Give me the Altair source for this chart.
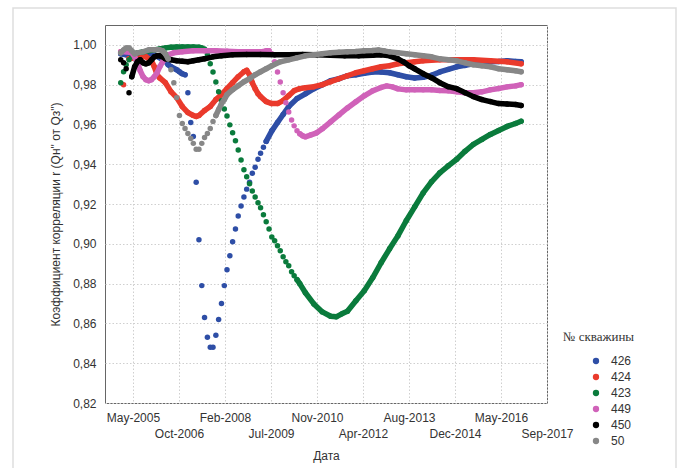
import json
import altair as alt
import pandas as pd

# ---------------- data ----------------
wells = ["426", "424", "423", "449", "450", "50"]
colors = ["#2e4ea6", "#ea3a2c", "#0a7b3c", "#d062b9", "#000000", "#878787"]

tick_dates = ["2005-05-28", "2006-10-10", "2008-02-22", "2009-07-06", "2010-11-18",
              "2012-04-01", "2013-08-14", "2014-12-27", "2016-05-10", "2017-09-22"]
tick_labels = ["May-2005", "Oct-2006", "Feb-2008", "Jul-2009", "Nov-2010",
               "Apr-2012", "Aug-2013", "Dec-2014", "May-2016", "Sep-2017"]
x_range = ["2004-07-28", "2017-09-22"]
y_ticks = [0.82, 0.84, 0.86, 0.88, 0.90, 0.92, 0.94, 0.96, 0.98, 1.00]

s426 = [("2005-01", 0.9955), ("2005-03", 0.995), ("2005-05", 0.9945), ("2005-07", 0.995),
        ("2005-09", 0.9955), ("2005-11", 0.9955), ("2006-01", 0.995), ("2006-03", 0.9935),
        ("2006-05", 0.992), ("2006-06", 0.990), ("2006-07", 0.989), ("2006-09", 0.9875),
        ("2006-10", 0.9865), ("2006-11", 0.9855), ("2006-12", 0.985),
        ("2007-01", 0.976), ("2007-02", 0.961), ("2007-03", 0.954), ("2007-04", 0.931),
        ("2007-05", 0.902), ("2007-06", 0.879), ("2007-07", 0.863), ("2007-08", 0.853),
        ("2007-09", 0.848), ("2007-10", 0.848), ("2007-11", 0.854), ("2007-12", 0.862),
        ("2008-01", 0.870), ("2008-02", 0.879), ("2008-03", 0.887), ("2008-04", 0.894),
        ("2008-05", 0.901), ("2008-06", 0.9075), ("2008-07", 0.914), ("2008-08", 0.919),
        ("2008-09", 0.9235), ("2008-10", 0.9275), ("2008-11", 0.931), ("2008-12", 0.9355),
        ("2009-01", 0.9385), ("2009-02", 0.9425), ("2009-03", 0.9455), ("2009-04", 0.9485),
        ("2009-05", 0.9515), ("2009-07", 0.9568), ("2009-09", 0.961), ("2009-11", 0.965),
        ("2010-01", 0.969), ("2010-04", 0.973), ("2010-07", 0.9754), ("2010-10", 0.978),
        ("2011-01", 0.980), ("2011-04", 0.982), ("2011-07", 0.983), ("2011-10", 0.9845),
        ("2012-01", 0.985), ("2012-04", 0.9857), ("2012-07", 0.9864), ("2012-10", 0.9864),
        ("2013-01", 0.986), ("2013-04", 0.985), ("2013-07", 0.984), ("2013-10", 0.9834),
        ("2014-01", 0.9837), ("2014-04", 0.9847), ("2014-07", 0.9864), ("2014-10", 0.9877),
        ("2015-01", 0.989), ("2015-04", 0.9897), ("2015-07", 0.9905), ("2015-10", 0.991),
        ("2016-01", 0.9915), ("2016-04", 0.9917), ("2016-07", 0.992), ("2016-10", 0.9917),
        ("2016-12", 0.9915)]
d426 = [("2005-01", "2006-12"), ("2009-05", "2016-12")]

s424 = [("2005-01", 0.9965), ("2005-02", 0.980), ("2005-04", 0.993), ("2005-06", 0.9935),
        ("2005-08", 0.994), ("2005-10", 0.994), ("2005-12", 0.992), ("2006-01", 0.989),
        ("2006-02", 0.985), ("2006-03", 0.9834), ("2006-05", 0.981), ("2006-07", 0.9765),
        ("2006-09", 0.9735), ("2006-11", 0.969), ("2007-01", 0.966), ("2007-03", 0.9645),
        ("2007-04", 0.964), ("2007-05", 0.9645), ("2007-07", 0.967), ("2007-09", 0.969),
        ("2007-11", 0.9725), ("2008-01", 0.975), ("2008-03", 0.978), ("2008-05", 0.981),
        ("2008-07", 0.984), ("2008-09", 0.9865), ("2008-10", 0.9872), ("2008-11", 0.985),
        ("2008-12", 0.981), ("2009-01", 0.978), ("2009-02", 0.9755), ("2009-03", 0.974),
        ("2009-05", 0.9715), ("2009-07", 0.9705), ("2009-09", 0.9705), ("2009-11", 0.972),
        ("2010-01", 0.9745), ("2010-03", 0.977), ("2010-05", 0.978), ("2010-07", 0.9785),
        ("2010-10", 0.979), ("2011-01", 0.980), ("2011-04", 0.9815), ("2011-07", 0.983),
        ("2011-10", 0.9845), ("2012-01", 0.986), ("2012-04", 0.987), ("2012-07", 0.988),
        ("2012-10", 0.989), ("2013-01", 0.9895), ("2013-04", 0.9905), ("2013-07", 0.991),
        ("2013-10", 0.9915), ("2014-01", 0.992), ("2014-07", 0.9925), ("2015-01", 0.9925),
        ("2015-07", 0.9925), ("2016-01", 0.992), ("2016-07", 0.9915), ("2016-12", 0.9905)]
d424 = [("2005-04", "2016-12")]

s423 = [("2005-01", 0.981), ("2005-02", 0.9865), ("2005-03", 0.990), ("2005-04", 0.9925),
        ("2005-05", 0.994), ("2005-06", 0.995), ("2005-07", 0.996), ("2005-09", 0.9965),
        ("2005-11", 0.997), ("2006-01", 0.9975), ("2006-03", 0.998), ("2006-05", 0.9985),
        ("2006-07", 0.9988), ("2006-09", 0.999), ("2006-11", 0.999), ("2007-01", 0.999),
        ("2007-03", 0.999), ("2007-05", 0.9988), ("2007-06", 0.9985),
        ("2007-07", 0.998), ("2007-08", 0.995), ("2007-09", 0.9905), ("2007-10", 0.9864),
        ("2007-11", 0.9814), ("2007-12", 0.9764), ("2008-01", 0.9719), ("2008-02", 0.9678),
        ("2008-03", 0.9643), ("2008-04", 0.9598), ("2008-05", 0.9558), ("2008-06", 0.9518),
        ("2008-07", 0.9472), ("2008-08", 0.9422), ("2008-09", 0.9372), ("2008-10", 0.9337),
        ("2008-11", 0.9302), ("2008-12", 0.9266), ("2009-01", 0.9236), ("2009-02", 0.9206),
        ("2009-03", 0.9181), ("2009-04", 0.9146), ("2009-05", 0.9111), ("2009-06", 0.9075),
        ("2009-07", 0.9035), ("2009-08", 0.9015), ("2009-09", 0.899), ("2009-10", 0.8965),
        ("2009-11", 0.8935), ("2009-12", 0.891), ("2010-01", 0.889), ("2010-02", 0.886),
        ("2010-03", 0.884), ("2010-04", 0.882), ("2010-05", 0.880), ("2010-07", 0.8754),
        ("2010-10", 0.8698), ("2011-01", 0.8658), ("2011-04", 0.8636), ("2011-06", 0.8633),
        ("2011-08", 0.8648), ("2011-10", 0.8661), ("2012-01", 0.8714), ("2012-04", 0.8764),
        ("2012-07", 0.8829), ("2012-10", 0.8905), ("2013-01", 0.8975), ("2013-04", 0.904),
        ("2013-07", 0.9116), ("2013-10", 0.9186), ("2014-01", 0.9256), ("2014-04", 0.9312),
        ("2014-07", 0.9357), ("2014-10", 0.9392), ("2015-01", 0.9425), ("2015-04", 0.9465),
        ("2015-07", 0.950), ("2015-10", 0.9525), ("2016-01", 0.955), ("2016-04", 0.957),
        ("2016-07", 0.959), ("2016-10", 0.9605), ("2016-12", 0.9616)]
d423 = [("2005-07", "2007-06"), ("2010-04", "2016-12")]

s449 = [("2005-01", 0.9965), ("2005-03", 0.9965), ("2005-05", 0.996), ("2005-06", 0.994),
        ("2005-07", 0.991), ("2005-08", 0.987), ("2005-09", 0.984), ("2005-10", 0.9825),
        ("2005-11", 0.982), ("2005-12", 0.9825), ("2006-01", 0.984), ("2006-02", 0.986),
        ("2006-03", 0.989), ("2006-04", 0.9915), ("2006-05", 0.9935), ("2006-06", 0.995),
        ("2006-08", 0.996), ("2006-11", 0.9965), ("2007-03", 0.997), ("2007-07", 0.997),
        ("2007-11", 0.997), ("2008-03", 0.9968), ("2008-07", 0.9965), ("2008-11", 0.9965),
        ("2009-03", 0.9965), ("2009-05", 0.997), ("2009-06", 0.997),
        ("2009-07", 0.9955), ("2009-08", 0.9915), ("2009-09", 0.9864), ("2009-10", 0.9814),
        ("2009-11", 0.9759), ("2009-12", 0.9709), ("2010-01", 0.9663), ("2010-02", 0.9623),
        ("2010-03", 0.9593), ("2010-04", 0.9568), ("2010-05", 0.9553), ("2010-06", 0.9543),
        ("2010-07", 0.9538), ("2010-09", 0.9548), ("2010-11", 0.9558), ("2011-01", 0.9578),
        ("2011-04", 0.9613), ("2011-07", 0.9648), ("2011-10", 0.9683), ("2012-01", 0.9714),
        ("2012-04", 0.9744), ("2012-07", 0.9769), ("2012-10", 0.9786), ("2012-12", 0.9794),
        ("2013-02", 0.9789), ("2013-04", 0.9779), ("2013-07", 0.9774), ("2013-10", 0.9774),
        ("2014-01", 0.9774), ("2014-04", 0.9774), ("2014-07", 0.9771), ("2014-10", 0.9769),
        ("2015-01", 0.9764), ("2015-04", 0.9759), ("2015-07", 0.9759), ("2015-10", 0.9764),
        ("2016-01", 0.9774), ("2016-04", 0.9781), ("2016-07", 0.9789), ("2016-10", 0.9794),
        ("2016-12", 0.980)]
d449 = [("2005-01", "2009-06"), ("2010-05", "2016-12")]

s450 = [("2005-01", 0.9925), ("2005-02", 0.991), ("2005-03", 0.988), ("2005-04", 0.976),
        ("2005-05", 0.984), ("2005-06", 0.989), ("2005-07", 0.9915), ("2005-08", 0.9925),
        ("2005-09", 0.991), ("2005-10", 0.9905), ("2005-11", 0.991), ("2005-12", 0.9925),
        ("2006-01", 0.994), ("2006-02", 0.9945), ("2006-03", 0.9945), ("2006-04", 0.994),
        ("2006-05", 0.993), ("2006-07", 0.9925), ("2006-09", 0.992), ("2006-11", 0.9918),
        ("2007-01", 0.9915), ("2007-03", 0.992), ("2007-05", 0.9925), ("2007-07", 0.993),
        ("2007-10", 0.994), ("2008-01", 0.9945), ("2008-05", 0.995), ("2008-10", 0.9952),
        ("2009-03", 0.9952), ("2009-08", 0.995), ("2010-01", 0.995), ("2010-06", 0.9952),
        ("2010-11", 0.995), ("2011-04", 0.9948), ("2011-09", 0.9945), ("2012-02", 0.9945),
        ("2012-07", 0.9948), ("2012-10", 0.995), ("2013-01", 0.9945), ("2013-04", 0.993),
        ("2013-06", 0.9915), ("2013-08", 0.9895), ("2013-10", 0.988), ("2014-01", 0.9855),
        ("2014-04", 0.9835), ("2014-07", 0.981), ("2014-10", 0.979), ("2015-01", 0.978),
        ("2015-04", 0.976), ("2015-07", 0.974), ("2015-10", 0.9725), ("2016-01", 0.9715),
        ("2016-04", 0.9705), ("2016-07", 0.9703), ("2016-10", 0.970), ("2016-12", 0.9695)]
d450 = [("2005-05", "2016-12")]

s50 = [("2005-01", 0.996), ("2005-02", 0.9975), ("2005-03", 0.9985), ("2005-04", 0.9985),
       ("2005-05", 0.997), ("2005-06", 0.9955), ("2005-07", 0.996), ("2005-09", 0.9965),
       ("2005-11", 0.9975), ("2006-01", 0.9975), ("2006-03", 0.9975), ("2006-04", 0.997),
       ("2006-05", 0.9955), ("2006-06", 0.993),
       ("2006-07", 0.9875), ("2006-08", 0.981), ("2006-09", 0.9735), ("2006-10", 0.9645),
       ("2006-11", 0.9605), ("2006-12", 0.958), ("2007-01", 0.9555), ("2007-02", 0.953),
       ("2007-03", 0.9505), ("2007-04", 0.9475), ("2007-05", 0.9475), ("2007-06", 0.9505),
       ("2007-07", 0.9535), ("2007-08", 0.9555), ("2007-09", 0.958), ("2007-10", 0.9615),
       ("2007-11", 0.9645), ("2007-12", 0.9675), ("2008-01", 0.9705), ("2008-02", 0.9725),
       ("2008-03", 0.975), ("2008-05", 0.9775), ("2008-07", 0.9795), ("2008-09", 0.9815),
       ("2008-11", 0.983), ("2009-01", 0.985), ("2009-03", 0.9865), ("2009-05", 0.988),
       ("2009-07", 0.9895), ("2009-10", 0.9915), ("2010-01", 0.9925), ("2010-04", 0.9935),
       ("2010-07", 0.9945), ("2010-10", 0.995), ("2011-01", 0.9955), ("2011-04", 0.996),
       ("2011-07", 0.9963), ("2011-10", 0.9965), ("2012-01", 0.9967), ("2012-04", 0.997),
       ("2012-07", 0.9972), ("2012-09", 0.9975), ("2012-11", 0.997), ("2013-01", 0.9965),
       ("2013-04", 0.996), ("2013-07", 0.9955), ("2013-10", 0.995), ("2014-01", 0.9945),
       ("2014-04", 0.994), ("2014-07", 0.993), ("2014-10", 0.9925), ("2015-01", 0.992),
       ("2015-04", 0.991), ("2015-07", 0.990), ("2015-10", 0.9895), ("2016-01", 0.989),
       ("2016-04", 0.988), ("2016-07", 0.9875), ("2016-10", 0.987), ("2016-12", 0.9865)]
d50 = [("2005-01", "2006-06"), ("2007-11", "2016-12")]

series = {"426": s426, "424": s424, "423": s423, "449": s449, "450": s450, "50": s50}
dense = {"426": d426, "424": d424, "423": d423, "449": d449, "450": d450, "50": d50}

# ---------------- build ----------------
origin = pd.Timestamp("2005-01-01")
tick_days = [int((pd.Timestamp(d) - origin).days) for d in tick_dates]
x_dom = [int((pd.Timestamp(d) - origin).days) for d in x_range]

lab = json.dumps(tick_labels)
tv = json.dumps(tick_days)
label_expr = (f"indexof({tv}, datum.value) % 2 == 1 ? ['', {lab}[indexof({tv}, datum.value)]]"
              f" : {lab}[indexof({tv}, datum.value)]")

x_axis = alt.Axis(values=tick_days, labelExpr=label_expr, labelOverlap=False, labelFlush=False,
                  labelLineHeight=16, labelBaseline="top", labelPadding=9, ticks=False, domain=False,
                  grid=True, title="Дата", titlePadding=11)
y_axis = alt.Axis(values=y_ticks, labelExpr="replace(format(datum.value, '.2f'), '.', ',')",
                  labelOverlap=False, labelFlush=False, labelPadding=9, ticks=False, domain=False,
                  grid=True, title='Коэффициент корреляции  r (Qн" от Qз")', titlePadding=10)

x_enc = alt.X("day:Q", scale=alt.Scale(domain=x_dom, nice=False, zero=False), axis=x_axis)
y_enc = alt.Y("r:Q", scale=alt.Scale(domain=[0.82, 1.01], nice=False, zero=False), axis=y_axis)

legend = alt.Legend(title="№ скважины", orient="none", legendX=458, legendY=306,
                    titleFont="Liberation Serif", titleFontSize=13, titleFontWeight="normal",
                    titleColor="#333", titlePadding=11, labelFont="Liberation Sans",
                    labelFontSize=12, labelColor="#333", symbolType="circle", symbolSize=40,
                    symbolOffset=27, labelOffset=9, rowPadding=4, padding=0,
                    symbolStrokeWidth=0)
color_enc = alt.Color("well:N", scale=alt.Scale(domain=wells, range=colors), legend=legend)

frame = alt.Chart(pd.DataFrame({"a": [0]})).mark_rect(
    fill="transparent", stroke="#dedede", strokeWidth=1.5
).encode(x=alt.value(-92), x2=alt.value(571), y=alt.value(-17), y2=alt.value(470))

layers = [frame]
for w, c in zip(wells, colors):
    rows = []
    for d, v in series[w]:
        seg = -1
        for i, (a, b) in enumerate(dense[w]):
            if a <= d <= b:
                seg = i
        rows.append({"well": w, "date": d, "r": v, "seg": seg})
    dfw = pd.DataFrame(rows)
    dfw["day"] = (pd.to_datetime(dfw["date"] + "-15") - origin).dt.days
    line_df = dfw[dfw["seg"] >= 0]
    layers.append(
        alt.Chart(line_df).mark_line(strokeWidth=5.5, strokeCap="round", strokeJoin="round")
        .encode(x=x_enc, y=y_enc, detail="seg:N", color=alt.value(c))
    )
    layers.append(
        alt.Chart(dfw).mark_circle(size=30, opacity=1).encode(x=x_enc, y=y_enc, color=color_enc)
    )

chart = alt.layer(*layers).properties(
    width=442, height=378,
    autosize=alt.AutoSizeParams(type="none"),
    padding={"left": 105, "top": 25, "right": 132, "bottom": 65},
    background="white",
).configure_view(
    stroke="#666", strokeWidth=1
).configure_axis(
    labelFont="Liberation Sans", labelFontSize=12, labelColor="#333",
    titleFont="Liberation Sans", titleFontSize=12, titleColor="#333", titleFontWeight="normal",
    gridColor="#cfcfcf", gridDash=[1.5, 2], gridWidth=1
)

chart.save("out.html", embed_options={"renderer": "svg", "actions": False})
